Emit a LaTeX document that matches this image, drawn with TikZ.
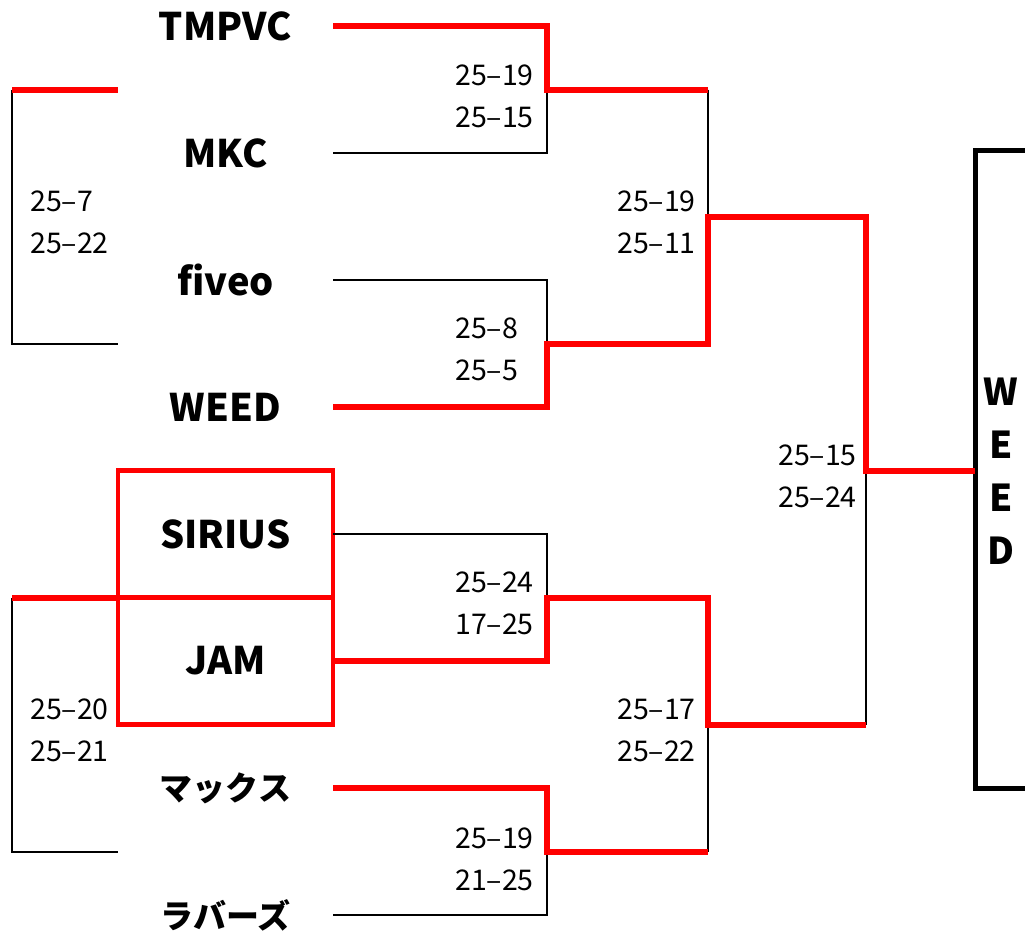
\documentclass[tikz,border=0pt]{standalone}
\usepackage{fontspec}
\setmainfont{Noto Sans CJK JP}
\usetikzlibrary{positioning}
\tikzset{
    bracket/.style   = {x=1pt, y=-1pt},
    team/.style      = {font=\bfseries\fontsize{38}{38}\selectfont,
                        minimum width=215pt, minimum height=127pt,
                        inner sep=0pt, outer sep=0pt},
    kana/.style      = {team, font=\bfseries\fontsize{33}{33}\selectfont},
    seed/.style      = {team, draw=red, line width=4.5pt},
    win/.style       = {draw=red, line width=6pt},
    lose/.style      = {draw=black, line width=2pt},
    score/.style     = {font=\fontsize{28.5}{42}\selectfont, align=left,
                        anchor=west, inner sep=0pt},
    champbox/.style  = {draw, line width=5pt, minimum width=90pt,
                        minimum height=638pt, inner sep=0pt, outer sep=0pt},
    champname/.style = {font=\bfseries\fontsize{37}{53}\selectfont,
                        align=center, inner sep=0pt}
}

\begin{document}
\begin{tikzpicture}[bracket]

\clip (0,0) rectangle (1025,937);
\fill[white] (0,0) rectangle (1025,937);

% Teams
\node[team] (tmpvc)   at (225.5,26)  {TMPVC};
\node[team] (mkc)     at (225.5,153) {MKC};
\node[team] (fiveo)   at (225.5,280) {fiveo};
\node[team] (weed)    at (225.5,407) {WEED};
\node[seed] (sirius)  at (225.5,534) {SIRIUS};
\node[seed] (jam)     at (225.5,661) {JAM};
\node[kana] (maxx)    at (225.5,788) {マックス};
\node[kana] (rubbers) at (225.5,915) {ラバーズ};

% Champion
\node[champbox]  (champ)     at (1020,469) {};
\node[champname] (champtext) at (1001,471) {W\\E\\E\\D};

% Junctions
\coordinate (r1a) at (547,89.5);
\coordinate (r1b) at (547,343.5);
\coordinate (r1c) at (547,597.5);
\coordinate (r1d) at (547,851.5);
\coordinate (r2a) at (708,216.5);
\coordinate (r2b) at (708,724.5);
\coordinate (fin) at (866,470.5);
\coordinate (ltop) at (12,89.5);
\coordinate (lbot) at (12,597.5);

% Losing lines
\draw[lose] (mkc.east) -| (r1a);
\draw[lose] (fiveo.east) -| (r1b);
\draw[lose] (sirius.east) -| (r1c);
\draw[lose] (rubbers.east) -| (r1d);
\draw[lose] (r1a -| r2a) -- (r2a);
\draw[lose] (r1d -| r2b) -- (r2b);
\draw[lose] (r2b -| fin) -- (fin);
\draw[lose] (ltop) |- (fiveo.south west);
\draw[lose] (lbot) |- (maxx.south west);

% Winning lines
\draw[win] (tmpvc.east) -| (r1a) -- (r1a -| r2a);
\draw[win] (weed.east) -| (r1b) -| (r2a) -| (fin) -- (fin -| champ.west);
\draw[win] (jam.east) -| (r1c) -| (r2b) -- (r2b -| fin);
\draw[win] (maxx.east) -| (r1d) -- (r1d -| r2b);
\draw[win] (ltop) -- (mkc.north west);
\draw[win] (lbot) -- (jam.north west);

% Scores
\node[score] (s1a) at (455,96)  {25–19\\25–15};
\node[score] (s1b) at (455,349) {25–8\\25–5};
\node[score] (s1c) at (455,603) {25–24\\17–25};
\node[score] (s1d) at (455,859) {25–19\\21–25};
\node[score] (sl1) at (30,222)  {25–7\\25–22};
\node[score] (sl2) at (30,730)  {25–20\\25–21};
\node[score] (s2a) at (617,222) {25–19\\25–11};
\node[score] (s2b) at (617,730) {25–17\\25–22};
\node[score] (sfn) at (778,476) {25–15\\25–24};

\end{tikzpicture}
\end{document}
